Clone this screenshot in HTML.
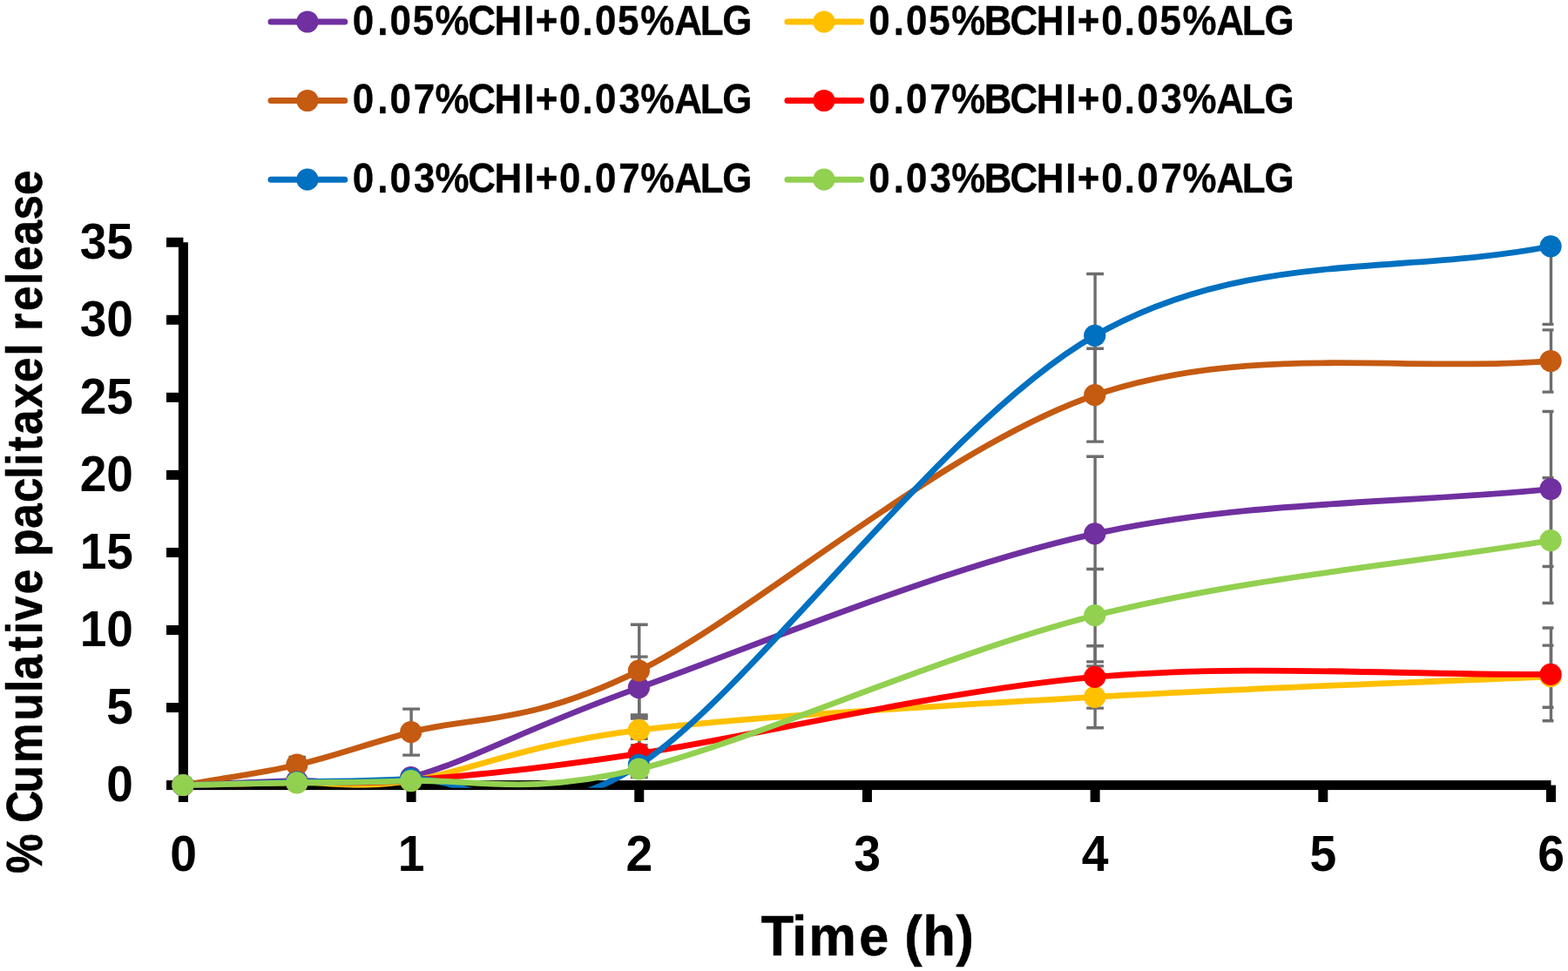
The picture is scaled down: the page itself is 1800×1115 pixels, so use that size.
<!DOCTYPE html>
<html lang="en">
<head>
<meta charset="utf-8">
<title>% Cumulative paclitaxel release vs Time (h)</title>
<style>
html,body{margin:0;padding:0;background:#fff;}
body{width:1800px;height:1115px;overflow:hidden;}
svg{display:block;}
text{font-family:"Liberation Sans",sans-serif;font-weight:bold;fill:#000;}
#legend text{stroke:#000;stroke-width:0.4px;stroke-linejoin:round;}
#xtitle,#ytitle{stroke:#000;stroke-width:0.6px;stroke-linejoin:round;}
</style>
</head>
<body>
<svg width="1800" height="1115" viewBox="0 0 1800 1115">
<rect width="1800" height="1115" fill="#fff"/>
<defs>
<clipPath id="plotclip"><rect x="207.2" y="275.1" width="1576.3" height="629.7"/></clipPath>
</defs>
<g id="axes" fill="#000">
<rect x="204.90" y="278.25" width="11.00" height="628.85"/>
<rect x="204.90" y="896.10" width="1575.58" height="11.00"/>
<rect x="191.00" y="896.10" width="19.40" height="11.00"/>
<rect x="191.00" y="807.05" width="19.40" height="11.00"/>
<rect x="191.00" y="718.00" width="19.40" height="11.00"/>
<rect x="191.00" y="628.95" width="19.40" height="11.00"/>
<rect x="191.00" y="539.90" width="19.40" height="11.00"/>
<rect x="191.00" y="450.85" width="19.40" height="11.00"/>
<rect x="191.00" y="361.80" width="19.40" height="11.00"/>
<rect x="191.00" y="272.75" width="19.40" height="11.00"/>
<rect x="204.90" y="901.60" width="11.00" height="19.40"/>
<rect x="466.58" y="901.60" width="11.00" height="19.40"/>
<rect x="728.26" y="901.60" width="11.00" height="19.40"/>
<rect x="989.94" y="901.60" width="11.00" height="19.40"/>
<rect x="1251.62" y="901.60" width="11.00" height="19.40"/>
<rect x="1513.30" y="901.60" width="11.00" height="19.40"/>
<rect x="1774.98" y="901.60" width="11.00" height="19.40"/>
</g>
<g id="errorbars" stroke="#6D6D6D" stroke-width="3.4" fill="none" clip-path="url(#plotclip)">
<path d="M733.76 754.10V825.10 M723.86 754.10H743.66 M723.86 825.10H743.66"/>
<path d="M1257.12 524.20V701.60 M1247.22 524.20H1267.02 M1247.22 701.60H1267.02"/>
<path d="M1780.48 472.50V650.50 M1770.58 472.50H1790.38 M1770.58 650.50H1790.38"/>
<path d="M733.76 821.00V855.60 M723.86 821.00H743.66 M723.86 855.60H743.66"/>
<path d="M1257.12 764.90V835.70 M1247.22 764.90H1267.02 M1247.22 835.70H1267.02"/>
<path d="M1780.48 741.10V812.30 M1770.58 741.10H1790.38 M1770.58 812.30H1790.38"/>
<path d="M472.08 814.10V867.10 M462.18 814.10H481.98 M462.18 867.10H481.98"/>
<path d="M733.76 717.20V823.00 M723.86 717.20H743.66 M723.86 823.00H743.66"/>
<path d="M1257.12 400.30V507.10 M1247.22 400.30H1267.02 M1247.22 507.10H1267.02"/>
<path d="M1780.48 378.90V450.10 M1770.58 378.90H1790.38 M1770.58 450.10H1790.38"/>
<path d="M733.76 848.30V882.30 M723.86 848.30H743.66 M723.86 882.30H743.66"/>
<path d="M1257.12 741.70V813.10 M1247.22 741.70H1267.02 M1247.22 813.10H1267.02"/>
<path d="M1780.48 721.00V827.80 M1770.58 721.00H1790.38 M1770.58 827.80H1790.38"/>
<path d="M341.24 869.40V926.60 M331.34 869.40H351.14 M331.34 926.60H351.14"/>
<path d="M1257.12 314.50V456.10 M1247.22 314.50H1267.02 M1247.22 456.10H1267.02"/>
<path d="M1780.48 193.20V372.40 M1770.58 193.20H1790.38 M1770.58 372.40H1790.38"/>
<path d="M733.76 873.40V892.60 M723.86 873.40H743.66 M723.86 892.60H743.66"/>
<path d="M1257.12 653.50V759.90 M1247.22 653.50H1267.02 M1247.22 759.90H1267.02"/>
<path d="M1780.48 548.70V692.50 M1770.58 548.70H1790.38 M1770.58 692.50H1790.38"/>
</g>
<g id="series1">
<path d="M210.40 901.50 C254.01 899.80 297.63 897.88 341.24 896.40 C384.85 894.92 406.66 910.40 472.08 892.60 C537.50 874.80 602.92 836.22 733.76 789.60 C864.60 742.98 1082.67 650.92 1257.12 612.90 C1431.57 574.88 1606.03 578.63 1780.48 561.50" fill="none" stroke="#7030A0" stroke-width="6.8" stroke-linejoin="round" stroke-linecap="round" clip-path="url(#plotclip)"/>
<g fill="#7030A0"><circle cx="210.00" cy="901.50" r="12.60"/><circle cx="340.84" cy="896.40" r="12.60"/><circle cx="471.68" cy="892.60" r="12.60"/><circle cx="733.36" cy="789.60" r="12.60"/><circle cx="1256.72" cy="612.90" r="12.60"/><circle cx="1780.08" cy="561.50" r="12.60"/></g>
</g>
<g id="series2">
<path d="M210.40 901.50 C254.01 900.57 297.63 899.53 341.24 898.70 C384.85 897.87 406.66 906.57 472.08 896.50 C537.50 886.43 602.92 854.33 733.76 838.30 C864.60 822.27 1082.67 810.57 1257.12 800.30 C1431.57 790.03 1606.03 784.57 1780.48 776.70" fill="none" stroke="#FFC000" stroke-width="6.8" stroke-linejoin="round" stroke-linecap="round" clip-path="url(#plotclip)"/>
<g fill="#FFC000"><circle cx="210.00" cy="901.50" r="12.60"/><circle cx="340.84" cy="898.70" r="12.60"/><circle cx="471.68" cy="896.50" r="12.60"/><circle cx="733.36" cy="838.30" r="12.60"/><circle cx="1256.72" cy="800.30" r="12.60"/><circle cx="1780.08" cy="776.70" r="12.60"/></g>
</g>
<g id="series3">
<path d="M210.40 901.50 C254.01 893.73 297.63 888.35 341.24 878.20 C384.85 868.05 406.66 858.62 472.08 840.60 C537.50 822.58 602.92 834.58 733.76 770.10 C864.60 705.62 1082.67 512.97 1257.12 453.70 C1431.57 394.43 1606.03 427.57 1780.48 414.50" fill="none" stroke="#C55A11" stroke-width="6.8" stroke-linejoin="round" stroke-linecap="round" clip-path="url(#plotclip)"/>
<g fill="#C55A11"><circle cx="210.00" cy="901.50" r="12.60"/><circle cx="340.84" cy="878.20" r="12.60"/><circle cx="471.68" cy="840.60" r="12.60"/><circle cx="733.36" cy="770.10" r="12.60"/><circle cx="1256.72" cy="453.70" r="12.60"/><circle cx="1780.08" cy="414.50" r="12.60"/></g>
</g>
<g id="series4">
<path d="M210.40 901.50 C254.01 900.43 297.63 899.22 341.24 898.30 C384.85 897.38 406.66 901.50 472.08 896.00 C537.50 890.50 602.92 885.07 733.76 865.30 C864.60 845.53 1082.67 792.55 1257.12 777.40 C1431.57 762.25 1606.03 775.40 1780.48 774.40" fill="none" stroke="#FF0000" stroke-width="6.8" stroke-linejoin="round" stroke-linecap="round" clip-path="url(#plotclip)"/>
<g fill="#FF0000"><circle cx="210.00" cy="901.50" r="12.60"/><circle cx="340.84" cy="898.30" r="12.60"/><circle cx="471.68" cy="896.00" r="12.60"/><circle cx="733.36" cy="865.30" r="12.60"/><circle cx="1256.72" cy="777.40" r="12.60"/><circle cx="1780.08" cy="774.40" r="12.60"/></g>
</g>
<g id="series5">
<path d="M210.40 901.50 C254.01 900.33 297.63 899.20 341.24 898.00 C384.85 896.80 406.66 897.57 472.08 894.30 C537.50 891.03 602.92 963.23 733.76 878.40 C864.60 793.57 1082.67 484.57 1257.12 385.30 C1431.57 286.03 1606.03 316.97 1780.48 282.80" fill="none" stroke="#0070C0" stroke-width="6.8" stroke-linejoin="round" stroke-linecap="round" clip-path="url(#plotclip)"/>
<g fill="#0070C0"><circle cx="210.00" cy="901.50" r="12.60"/><circle cx="340.84" cy="898.00" r="12.60"/><circle cx="471.68" cy="894.30" r="12.60"/><circle cx="733.36" cy="878.40" r="12.60"/><circle cx="1256.72" cy="385.30" r="12.60"/><circle cx="1780.08" cy="282.80" r="12.60"/></g>
</g>
<g id="series6">
<path d="M210.40 901.50 C254.01 900.60 297.63 899.60 341.24 898.80 C384.85 898.00 406.66 899.33 472.08 896.70 C537.50 894.07 602.92 914.67 733.76 883.00 C864.60 851.33 1082.67 750.43 1257.12 706.70 C1431.57 662.97 1606.03 649.30 1780.48 620.60" fill="none" stroke="#92D050" stroke-width="6.8" stroke-linejoin="round" stroke-linecap="round" clip-path="url(#plotclip)"/>
<g fill="#92D050"><circle cx="210.00" cy="901.50" r="12.60"/><circle cx="340.84" cy="898.80" r="12.60"/><circle cx="471.68" cy="896.70" r="12.60"/><circle cx="733.36" cy="883.00" r="12.60"/><circle cx="1256.72" cy="706.70" r="12.60"/><circle cx="1780.08" cy="620.60" r="12.60"/></g>
</g>
<g id="legend">
<line x1="311.0" y1="25.0" x2="395.8" y2="25.0" stroke="#7030A0" stroke-width="7.0" stroke-linecap="round"/>
<circle cx="352.9" cy="25.0" r="12.60" fill="#7030A0"/>
<text transform="translate(406.4 40.0) scale(0.9050 1)" font-size="48.5" x="-1.7 29.6 45.5 74.4 102.8 144.7 178.1 215.2 230.1 260.3 289.7 305.6 334.5 363.4 406.4 439 467.2">0.05%CHI+0.05%ALG</text>
<line x1="903.9" y1="25.0" x2="988.6" y2="25.0" stroke="#FFC000" stroke-width="7.0" stroke-linecap="round"/>
<circle cx="945.9" cy="25.0" r="12.60" fill="#FFC000"/>
<text transform="translate(998.9 40.0) scale(0.9050 1)" font-size="48.5" x="-1.7 29.6 45.5 74.4 103.3 144.7 177.6 211 248 262.9 293.1 322.5 338.4 367.4 396.2 439.2 471.8 500">0.05%BCHI+0.05%ALG</text>
<line x1="311.0" y1="115.5" x2="395.8" y2="115.5" stroke="#C55A11" stroke-width="7.0" stroke-linecap="round"/>
<circle cx="352.9" cy="115.5" r="12.60" fill="#C55A11"/>
<text transform="translate(406.4 130.4) scale(0.9050 1)" font-size="48.5" x="-1.7 29.6 45.5 75.6 102.8 144.7 178.1 215.2 230.1 260.3 289.7 305.6 335.9 363.4 406.4 439 467.2">0.07%CHI+0.03%ALG</text>
<line x1="903.9" y1="115.5" x2="988.6" y2="115.5" stroke="#FF0000" stroke-width="7.0" stroke-linecap="round"/>
<circle cx="945.9" cy="115.5" r="12.60" fill="#FF0000"/>
<text transform="translate(998.9 130.4) scale(0.9050 1)" font-size="48.5" x="-1.7 29.6 45.5 75.6 103.3 144.7 177.6 211 248 262.9 293.1 322.5 338.4 368.7 396.2 439.2 471.8 500">0.07%BCHI+0.03%ALG</text>
<line x1="311.0" y1="206.2" x2="395.8" y2="206.2" stroke="#0070C0" stroke-width="7.0" stroke-linecap="round"/>
<circle cx="352.9" cy="206.2" r="12.60" fill="#0070C0"/>
<text transform="translate(406.4 221.0) scale(0.9050 1)" font-size="48.5" x="-1.7 29.6 45.5 75.8 102.8 144.7 178.1 215.2 230.1 260.3 289.7 305.6 335.7 363.4 406.4 439 467.2">0.03%CHI+0.07%ALG</text>
<line x1="903.9" y1="206.2" x2="988.6" y2="206.2" stroke="#92D050" stroke-width="7.0" stroke-linecap="round"/>
<circle cx="945.9" cy="206.2" r="12.60" fill="#92D050"/>
<text transform="translate(998.9 221.0) scale(0.9050 1)" font-size="48.5" x="-1.7 29.6 45.5 75.8 103.3 144.7 177.6 211 248 262.9 293.1 322.5 338.4 368.5 396.2 439.2 471.8 500">0.03%BCHI+0.07%ALG</text>
</g>
<g id="ylabels" font-size="57.0" text-anchor="end">
<text transform="translate(152.9 297) scale(0.965 1)">35</text>
<text transform="translate(152.9 386) scale(0.965 1)">30</text>
<text transform="translate(152.9 475) scale(0.965 1)">25</text>
<text transform="translate(152.9 564) scale(0.965 1)">20</text>
<text transform="translate(152.9 653) scale(0.965 1)">15</text>
<text transform="translate(152.9 742) scale(0.965 1)">10</text>
<text transform="translate(152.9 831) scale(0.965 1)">5</text>
<text transform="translate(152.9 920) scale(0.965 1)">0</text>
</g>
<g id="xlabels" font-size="57.0" text-anchor="middle">
<text transform="translate(210.5 1000) scale(0.97 1)">0</text>
<text transform="translate(472.2 1000) scale(0.97 1)">1</text>
<text transform="translate(733.9 1000) scale(0.97 1)">2</text>
<text transform="translate(995.5 1000) scale(0.97 1)">3</text>
<text transform="translate(1257.2 1000) scale(0.97 1)">4</text>
<text transform="translate(1518.9 1000) scale(0.97 1)">5</text>
<text transform="translate(1780.6 1000) scale(0.97 1)">6</text>
</g>
<text id="ytitle" transform="translate(48.0 1001.2) rotate(-90) scale(0.9000 1)" font-size="56.8" x="-2 48.5 62.7 100.9 139.2 192.9 229.3 245.1 281.5 303.5 320.2 354.5 386.1 402.7 438.2 471.3 501.6 518.3 536.9 557.9 592 624.8 658.5 674.3 690.4 715.8 749.4 767 799.6 831.8 863.5">% Cumulative paclitaxel release</text>
<text id="xtitle" transform="translate(874.2 1097) scale(0.9400 1)" font-size="65" x="-0.4 37.2 57.8 119.1 155.2 174.5 197.1 237.5">Time (h)</text>
</svg>
</body>
</html>
